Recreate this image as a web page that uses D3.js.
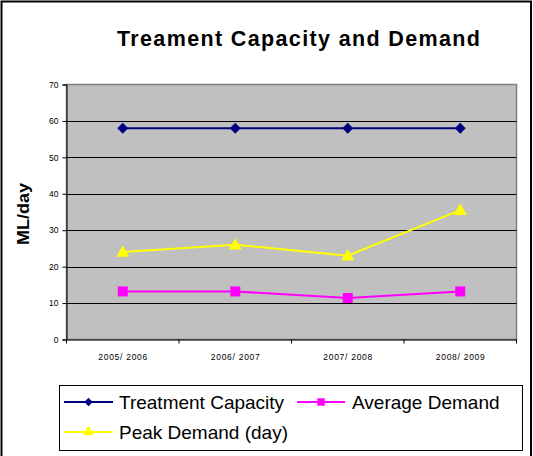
<!DOCTYPE html>
<html><head><meta charset="utf-8">
<script src="https://cdn.jsdelivr.net/npm/d3@7"></script>
<style>body{margin:0;background:#fff}svg{display:block;font-family:"Liberation Sans",Arial,sans-serif}</style>
</head><body>
<svg id="c" width="533" height="456"></svg>
<script>
const categories = ["2005/ 2006","2006/ 2007","2007/ 2008","2008/ 2009"];
const treatmentCapacity = [58, 58, 58, 58];
const averageDemand = [13.2, 13.2, 11.4, 13.2];
const peakDemand = [24, 26, 23, 35.5];
const yTicks = [0,10,20,30,40,50,60,70];
const titleText = "Treament Capacity and Demand";
const yLabel = "ML/day";
const seriesNames = ["Treatment Capacity","Average Demand","Peak Demand (day)"];

const svg = d3.select("#c");
const m = {l:66.5, r:516.5, t:84.5, b:339.5};
const x = d3.scaleBand().domain(categories).range([m.l, m.r]);
const y = d3.scaleLinear().domain([0,70]).range([m.b, m.t]);

// outer border
svg.append("rect").attr("x",1.5).attr("y",1.5).attr("width",529.5).attr("height",460)
  .attr("fill","#fff").attr("stroke","#000").attr("stroke-width",2);

// title
svg.append("text").attr("x",298.5).attr("y",46).attr("text-anchor","middle")
  .attr("font-size",21.5).attr("font-weight","bold").attr("textLength",363).attr("lengthAdjust","spacing")
  .text(titleText);

// plot area
svg.append("rect").attr("x",m.l).attr("y",m.t).attr("width",m.r-m.l).attr("height",m.b-m.t)
  .attr("fill","#c0c0c0").attr("stroke","#808080").attr("stroke-width",1.5);

// gridlines
svg.append("g").selectAll("line").data(yTicks.filter(d=>d>0 && d<70)).join("line")
  .attr("x1",m.l).attr("x2",m.r).attr("y1",d=>Math.round(y(d))+0.5).attr("y2",d=>Math.round(y(d))+0.5)
  .attr("stroke","#000").attr("stroke-width",1);

// y axis
const ya = svg.append("g").attr("transform",`translate(${m.l},0)`)
  .call(d3.axisLeft(y).tickValues(yTicks).tickSize(4).tickPadding(4).tickFormat(d3.format("d")));
ya.select(".domain").attr("stroke","#000");
ya.selectAll("line").attr("stroke","#000");
ya.selectAll("text").attr("font-size",8.5).attr("fill","#000").attr("font-family","Liberation Sans, Arial");

// x axis
const xa = svg.append("g").attr("transform",`translate(0,${m.b})`)
  .call(d3.axisBottom(x).tickSize(0).tickPadding(14));
xa.select(".domain").attr("stroke","#000");
xa.selectAll("text").attr("font-size",8.5).attr("fill","#000").attr("font-family","Liberation Sans, Arial")
  .attr("textLength",49).attr("lengthAdjust","spacing");
const bounds = categories.map(c=>x(c)).concat([m.r]);
xa.append("g").selectAll("line").data(bounds).join("line")
  .attr("x1",d=>d).attr("x2",d=>d).attr("y1",0).attr("y2",4).attr("stroke","#000");

// y label
svg.append("text").attr("transform","translate(29,214) rotate(-90)").attr("text-anchor","middle")
  .attr("font-size",16).attr("font-weight","bold").attr("textLength",62).attr("lengthAdjust","spacingAndGlyphs")
  .text(yLabel);

const cx = c => x(c) + x.bandwidth()/2;
const line = d3.line().x((d,i)=>cx(categories[i])).y(d=>y(d));

const series = [
  {name:seriesNames[0], vals:treatmentCapacity, color:"#000080", sym:d3.symbolDiamond2, size:75, lsize:45},
  {name:seriesNames[1], vals:averageDemand, color:"#ff00ff", sym:d3.symbolSquare, size:100, lsize:56},
  {name:seriesNames[2], vals:peakDemand, color:"#ffff00", sym:d3.symbolTriangle, size:75, lsize:55},
];

const order = [0,2,1];
order.forEach(k=>{
  const s = series[k];
  svg.append("path").attr("d",line(s.vals)).attr("fill","none").attr("stroke",s.color).attr("stroke-width",2);
  svg.append("g").selectAll("path").data(s.vals).join("path")
    .attr("transform",(d,i)=>`translate(${cx(categories[i])},${y(d)+(k===2?1:0)})`)
    .attr("d",d3.symbol().type(s.sym).size(s.size)).attr("fill",s.color);
});

// legend
svg.append("rect").attr("x",59.5).attr("y",385.5).attr("width",463).attr("height",65)
  .attr("fill","#fff").attr("stroke","#000").attr("stroke-width",1);
const leg = [
  {s:series[0], x1:64, x2:113, tx:119, y:402},
  {s:series[1], x1:297, x2:345, tx:352, y:402},
  {s:series[2], x1:64, x2:113, tx:119, y:432},
];
leg.forEach(L=>{
  svg.append("line").attr("x1",L.x1).attr("x2",L.x2).attr("y1",L.y).attr("y2",L.y)
    .attr("stroke",L.s.color).attr("stroke-width",2);
  svg.append("path").attr("transform",`translate(${(L.x1+L.x2)/2},${L.y})`)
    .attr("d",d3.symbol().type(L.s.sym).size(L.s.lsize)).attr("fill",L.s.color);
  svg.append("text").attr("x",L.tx).attr("y",L.y+6.5).attr("font-size",19).text(L.s.name);
});
</script>
</body></html>
